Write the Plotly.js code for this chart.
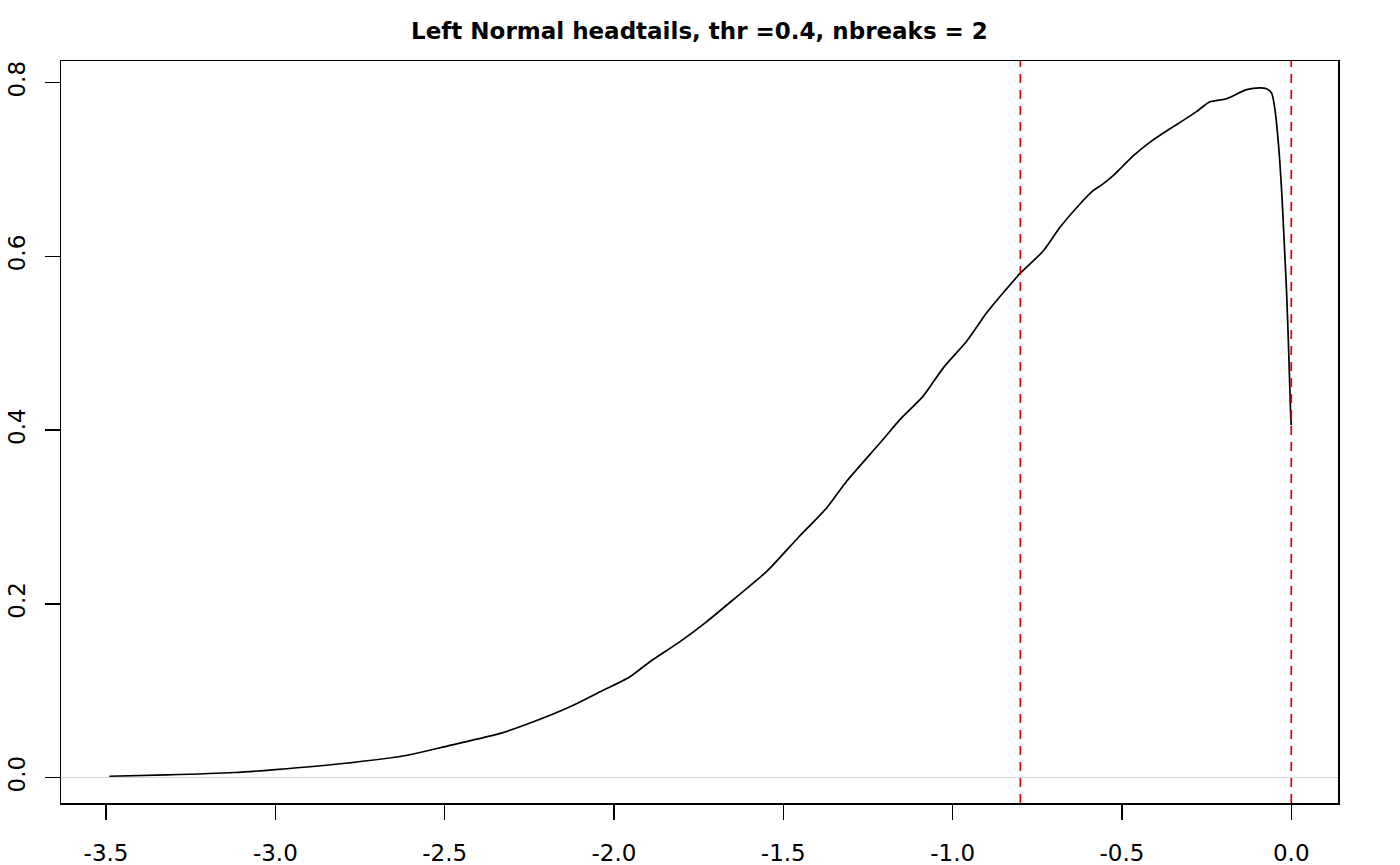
<!DOCTYPE html>
<html>
<head>
<meta charset="utf-8">
<script src="https://cdn.plot.ly/plotly-3.0.1.min.js"></script>
<style>
html,body{margin:0;padding:0;background:#fff;}
#chart{width:1400px;height:865px;}
</style>
</head>
<body>
<div id="chart"></div>
<script>
// Density curve
const densX = [-3.49, -3.32, -3.12, -3.00, -2.80, -2.61, -2.49, -2.336, -2.238, -2.130,
  -2.041, -1.953, -1.894, -1.805, -1.726, -1.637, -1.549, -1.455, -1.372, -1.313,
  -1.214, -1.155, -1.087, -1.027, -0.958, -0.899, -0.850, -0.801, -0.732, -0.683,
  -0.624, -0.585, -0.560, -0.526, -0.496, -0.466, -0.417, -0.358, -0.319, -0.279,
  -0.240, -0.191, -0.132, -0.092, -0.073, -0.058, -0.048, -0.038, -0.028, -0.0207,
  -0.0136, -0.0068, -0.002, 0.0];
const densY = [0.0015, 0.003, 0.0058, 0.0092, 0.0162, 0.0257, 0.0365, 0.0508, 0.0642, 0.0815,
  0.0988, 0.1161, 0.1334, 0.1565, 0.1796, 0.2084, 0.2373, 0.2767, 0.3104, 0.3411,
  0.3854, 0.4123, 0.4392, 0.4720, 0.5027, 0.5354, 0.5585, 0.5804, 0.6065, 0.6335,
  0.6604, 0.6757, 0.6823, 0.693, 0.7046, 0.716, 0.7316, 0.747, 0.7566, 0.767,
  0.778, 0.7816, 0.792, 0.794, 0.793, 0.788, 0.7685, 0.730, 0.6726, 0.615,
  0.5574, 0.4806, 0.4200, 0.4057];
// Break positions (red dashed verticals)
const breaks = [-0.8, 0.0];
// Tick labels
const xTicks = [-3.5, -3.0, -2.5, -2.0, -1.5, -1.0, -0.5, 0.0];
const xTickText = ["-3.5", "-3.0", "-2.5", "-2.0", "-1.5", "-1.0", "-0.5", "0.0"];
const yTicks = [0.0, 0.2, 0.4, 0.6, 0.8];
const yTickText = ["0.0", "0.2", "0.4", "0.6", "0.8"];
const titleText = "Left Normal headtails, thr =0.4, nbreaks = 2";

const traces = [{
  x: densX, y: densY, type: 'scatter', mode: 'lines',
  line: {color: '#000000', width: 1.7, shape: 'spline', smoothing: 0.7},
  hoverinfo: 'skip', showlegend: false
}];

const shapes = breaks.map(b => ({
  type: 'line', xref: 'x', yref: 'paper', x0: b, x1: b, y0: 0, y1: 1,
  line: {color: '#DD0000', width: 1.7, dash: '9px,7px'}, layer: 'above'
}));

const tickFont = {family: 'DejaVu Sans, sans-serif', size: 23, color: '#000'};

const layout = {
  width: 1400, height: 865,
  margin: {l: 61, r: 62, t: 61, b: 62, pad: 0},
  paper_bgcolor: '#fff', plot_bgcolor: '#fff',
  title: {
    text: '<b>' + titleText + '</b>',
    font: {family: 'DejaVu Sans, sans-serif', size: 23, color: '#000'},
    x: 0.5, xref: 'paper', xanchor: 'center',
    y: 1 - 31/865, yref: 'container', yanchor: 'middle'
  },
  xaxis: {
    range: [-3.633, 0.138], tickmode: 'array', tickvals: xTicks, ticktext: xTickText,
    showgrid: false, zeroline: false,
    showline: true, mirror: true, linecolor: '#000', linewidth: 1.5,
    ticks: 'outside', ticklen: 15, tickwidth: 1.5, tickcolor: '#000',
    tickfont: tickFont, ticklabelstandoff: 14
  },
  yaxis: {
    range: [-0.0293, 0.825], tickmode: 'array', tickvals: yTicks, ticktext: yTickText,
    showgrid: false, zeroline: true, zerolinecolor: '#D3D3D3', zerolinewidth: 1,
    showline: true, mirror: true, linecolor: '#000', linewidth: 1.5,
    ticks: 'outside', ticklen: 15, tickwidth: 1.5, tickcolor: '#000',
    tickangle: -90, tickfont: tickFont, ticklabelstandoff: 10
  },
  shapes: shapes
};

Plotly.newPlot('chart', traces, layout, {displayModeBar: false, staticPlot: true});
</script>
</body>
</html>
